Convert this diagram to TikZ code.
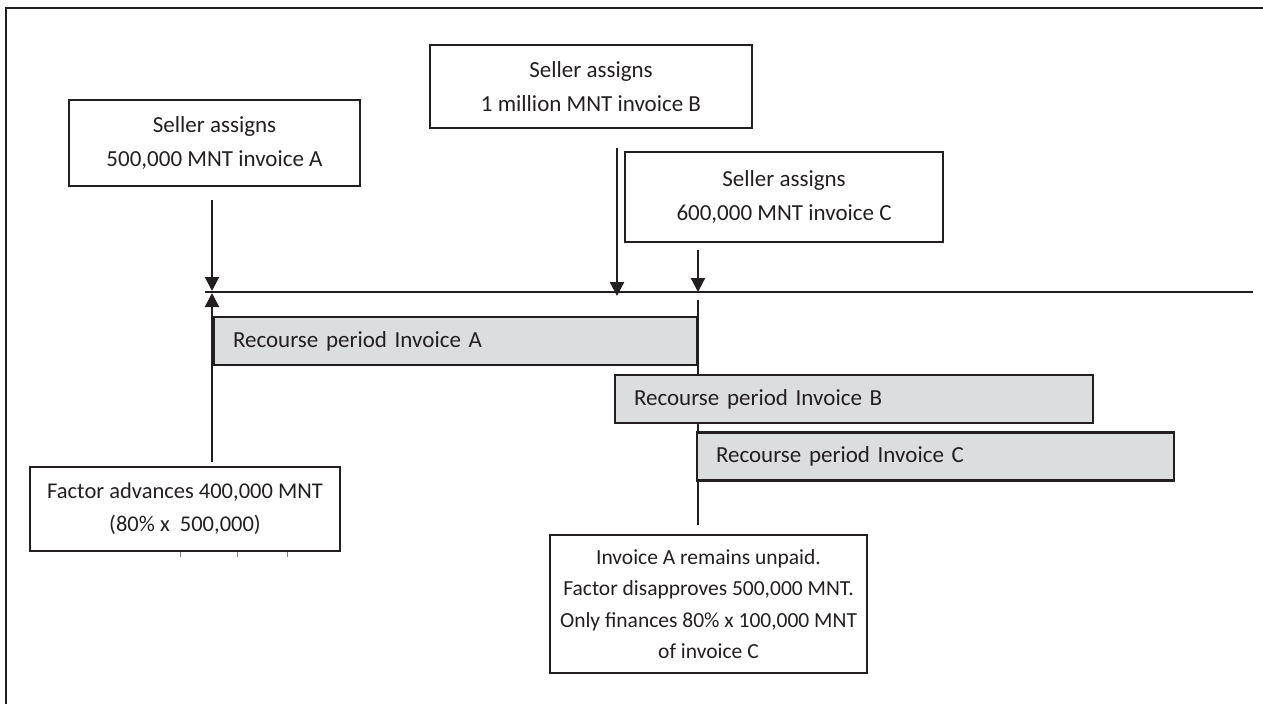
\documentclass[tikz,border=0pt]{standalone}
\usepackage{fontspec}
\setmainfont{Carlito}
\usetikzlibrary{arrows.meta}
\definecolor{ink}{HTML}{231F20}
\definecolor{barfill}{HTML}{DCDDDF}
\begin{document}
\begin{tikzpicture}[x=1pt,y=-1pt,
  box/.style={draw=ink, line width=1.6pt, align=center, inner sep=0pt, text=ink,
    font=\fontsize{23}{34}\selectfont},
  bar/.style={draw=ink, line width=2.4pt, fill=barfill, inner ysep=0pt, inner xsep=19pt,
    align=left, text=ink, minimum height=48pt, font=\fontsize{23}{26}\selectfont},
  arr/.style={line width=2.2pt, draw=ink, -{Triangle[width=14pt,length=14pt]}},
  thin/.style={line width=1.5pt, draw=ink},
]
\useasboundingbox (0,0) rectangle (1263,704);
% frame
\draw[line width=2.6pt, draw=ink] (6,704) -- (6,8) -- (1263,8);

% text boxes
\node[box, minimum width=291pt, minimum height=86pt] (boxA) at (214.5,143) {Seller assigns\\500,000 MNT invoice A};
\node[box, minimum width=322pt, minimum height=83pt] (boxB) at (591,86.5) {Seller assigns\\1 million MNT invoice B};
\node[box, minimum width=318pt, minimum height=90pt] (boxC) at (784,197) {Seller assigns\\600,000 MNT invoice C};
\node[box, minimum width=310pt, minimum height=84pt, font=\fontsize{22.5}{33}\selectfont] (boxF) at (185,509) {Factor advances 400,000 MNT\\(80\% x \ 500,000)};
\node[box, minimum width=317pt, minimum height=138pt, font=\fontsize{21.5}{31.5}\selectfont] (boxD) at (708.5,604)
  {Invoice A remains unpaid.\\Factor disapproves 500,000 MNT.\\Only finances 80\% x 100,000 MNT\\of invoice C};

% timeline
\coordinate (t0) at (205,292);
\coordinate (t1) at (1253,292);
\draw[thin] (t0) -- (t1);

% vertical marker at end of recourse period A
\coordinate (v0) at (698,300);
\coordinate (v1) at (698,525);
\draw[thin] (v0) -- (v1);

% recourse bars
\node[bar, text width=445pt] (barA) at (455.5,341) {Recourse period Invoice A};
\node[bar, text width=440pt] (barB) at (854,399) {Recourse period Invoice B};
\node[bar, text width=439pt] (barC) at (935.5,456.5) {Recourse period Invoice C};

% arrows
\coordinate (aA0) at (212,200);
\coordinate (aA1) at (212,291);
\draw[arr] (aA0) -- (aA1);
\coordinate (fA0) at (212,462);
\coordinate (fA1) at (212,293);
\draw[arr] (fA0) -- (fA1);
\coordinate (aB0) at (617,148);
\coordinate (aB1) at (617,296);
\draw[arr] (aB0) -- (aB1);
\coordinate (aC0) at (698,250);
\coordinate (aC1) at (698,292);
\draw[arr] (aC0) -- (aC1);

% small ticks under factor box
\foreach \x in {180,237,287} \draw[line width=0.6pt, draw=gray] (\x,552) -- (\x,557);
\end{tikzpicture}
\end{document}
